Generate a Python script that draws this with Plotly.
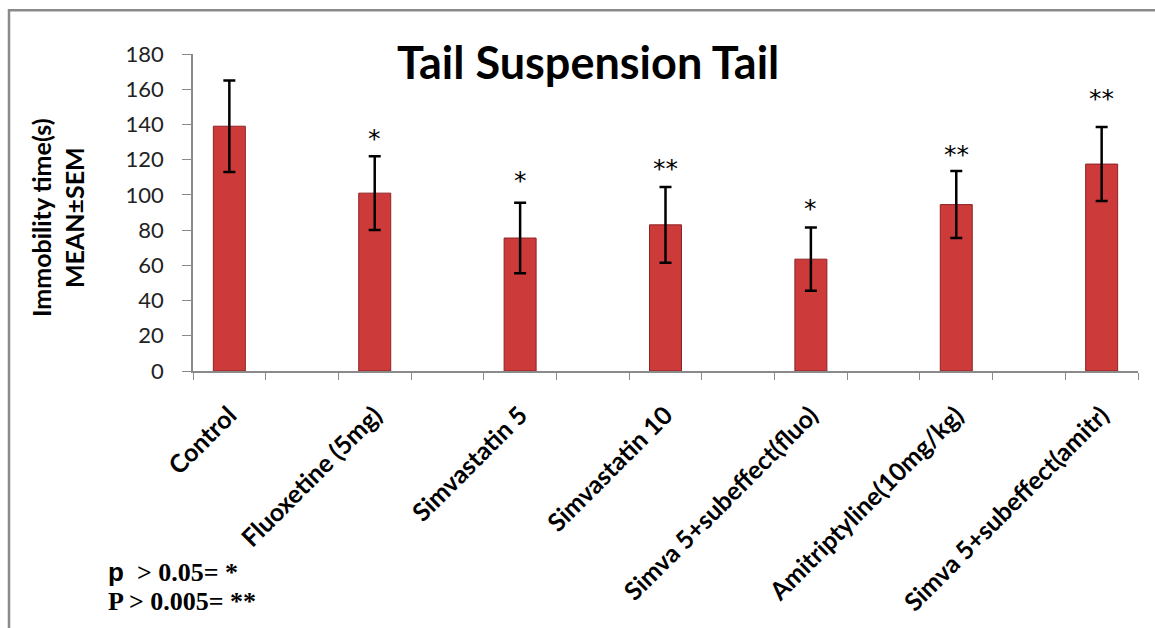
import plotly.graph_objects as go

# ---- data ----
categories = ["Control", "Fluoxetine (5mg)", "Simvastatin 5", "Simvastatin 10",
              "Simva 5+subeffect(fluo)", "Amitriptyline(10mg/kg)", "Simva 5+subeffect(amitr)"]
means = [139, 101, 75.5, 83, 63.5, 94.5, 117.5]
sem = [26, 21, 20, 21.5, 18, 19, 21]
sig_labels = ["", "*", "*", "**", "*", "**", "**"]
sig_y = [None, 132, 108, 115, 92, 123, 155]
y_ticks = [0, 20, 40, 60, 80, 100, 120, 140, 160, 180]

W, H = 1155, 628
L, R, T, B = 193, 17, 54, 255
PW, PH = W - L - R, H - T - B


def px(x):
    return (x - L) / PW


def py(y):
    return (H - B - y) / PH


# build 13-slot category axis (blank slot between each group)
full_x, full_y, full_e = [], [], []
for i, c in enumerate(categories):
    full_x.append(c)
    full_y.append(means[i])
    full_e.append(sem[i])
    if i < len(categories) - 1:
        full_x.append(" " * (i + 1))
        full_y.append(None)
        full_e.append(None)

fig = go.Figure()
fig.add_trace(go.Bar(
    x=full_x, y=full_y,
    width=0.44,
    marker=dict(color="#CC3A3A", line=dict(color="#8E2323", width=1)),
    error_y=dict(type="data", array=full_e, visible=True,
                 color="black", thickness=2.5, width=6),
    hoverinfo="skip",
))

annotations = []
for c, lab, yy in zip(categories, sig_labels, sig_y):
    if lab:
        annotations.append(dict(x=c, y=yy, xref="x", yref="y", text=lab,
                                showarrow=False,
                                font=dict(family="DejaVu Sans", size=25, color="black")))

# title
annotations.append(dict(x=px(588), y=py(62), xref="paper", yref="paper",
                        text="<b>Tail Suspension Tail</b>", showarrow=False,
                        font=dict(family="Lato", size=45, color="black"),
                        xanchor="center", yanchor="middle"))
# y-axis title
annotations.append(dict(x=px(58), y=py(219), xref="paper", yref="paper",
                        text="<b>Immobility time(s)<br>MEAN±SEM</b>", showarrow=False,
                        textangle=-90,
                        font=dict(family="Lato", size=25, color="black"),
                        xanchor="center", yanchor="middle"))
# footnote
annotations.append(dict(x=px(106), y=py(575), xref="paper", yref="paper",
                        text='<b><span style="font-family:Arial">p</span>  &gt; 0.05= *</b>',
                        showarrow=False, xanchor="left", yanchor="middle",
                        font=dict(family="Liberation Serif", size=26, color="black")))
annotations.append(dict(x=px(106), y=py(605), xref="paper", yref="paper",
                        text='<b>P &gt; 0.005= **</b>',
                        showarrow=False, xanchor="left", yanchor="middle",
                        font=dict(family="Liberation Serif", size=26, color="black")))

fig.update_layout(
    width=W, height=H,
    margin=dict(l=L, r=R, t=T, b=B),
    plot_bgcolor="white", paper_bgcolor="white",
    showlegend=False,
    annotations=annotations,
    shapes=[dict(type="rect", xref="paper", yref="paper",
                 x0=px(9), y0=py(10), x1=px(1170), y1=py(650),
                 line=dict(color="#8A8A8A", width=2.5), layer="below")],
)
fig.update_xaxes(
    type="category", categoryorder="array", categoryarray=full_x,
    range=[-0.5, len(full_x) - 0.5],
    tickson="boundaries", ticks="outside", ticklen=7, tickcolor="#8A8A8A",
    showline=True, linecolor="#8A8A8A", linewidth=1.5,
    tickangle=-45, tickfont=dict(family="Lato", size=25, color="black", weight="bold"),
    ticklabelstandoff=18,
    showgrid=False, zeroline=False,
)
fig.update_yaxes(
    range=[0, 180], tickvals=y_ticks, ticks="outside", ticklen=9,
    tickcolor="#8A8A8A", showline=True, linecolor="#8A8A8A", linewidth=1.5,
    tickfont=dict(family="Lato", size=22, color="#222"),
    ticklabelstandoff=14,
    showgrid=False, zeroline=False,
)

fig.write_html("out.html", config={"displayModeBar": False},
               post_script="document.body.style.margin='0';")
